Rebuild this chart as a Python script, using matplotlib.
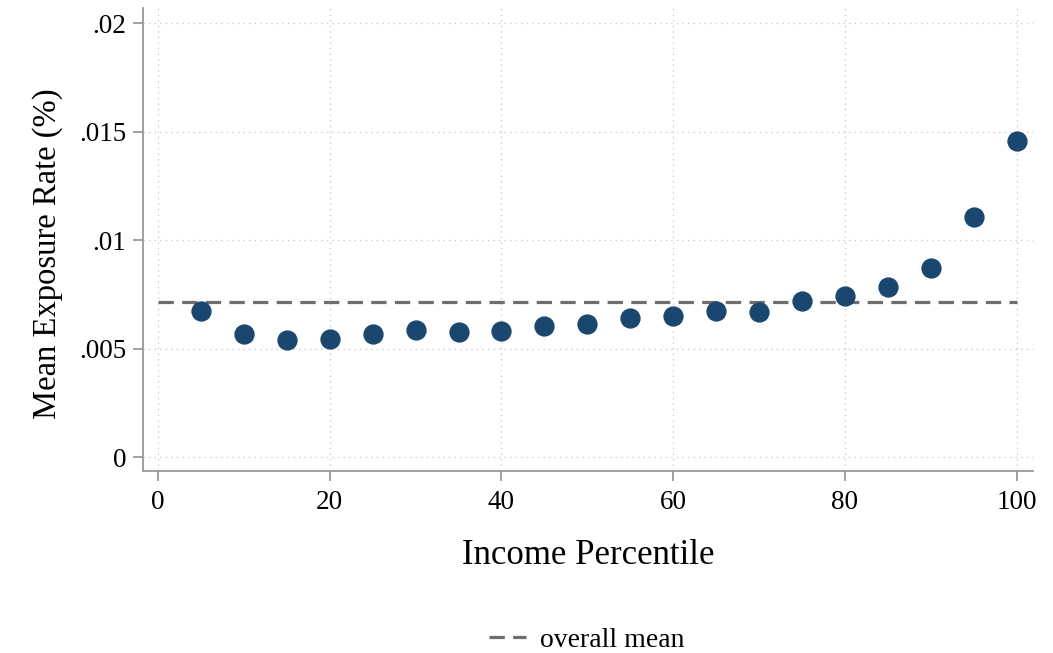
import numpy as np
import matplotlib.pyplot as plt

plt.rcParams['font.family'] = ['Liberation Serif', 'DejaVu Serif']

# Données
percentile = [5, 10, 15, 20, 25, 30, 35, 40, 45, 50,
              55, 60, 65, 70, 75, 80, 85, 90, 95, 100]
exposure = [0.00673, 0.00567, 0.00539, 0.00544, 0.00567, 0.00585, 0.00576, 0.00581, 0.00604, 0.00613,
            0.00641, 0.00650, 0.00673, 0.00668, 0.00719, 0.00742, 0.00783, 0.00871, 0.01106, 0.01456]
overall_mean = 0.00714
mean_span = [0, 100]

x_ticks = [0, 20, 40, 60, 80, 100]
y_ticks = [0, 0.005, 0.01, 0.015, 0.02]
y_labels = ['0', '.005', '.01', '.015', '.02']

fig = plt.figure(figsize=(10.53, 6.53), dpi=100)
ax = fig.add_axes([143 / 1053, 1 - 471 / 653, (1033 - 143) / 1053, (471 - 8) / 653])

grid_kw = dict(color='#cccccc', linestyle=(0, (1, 3)), linewidth=1.0, zorder=0)
for t in x_ticks:
    ax.axvline(t, **grid_kw)
for t in y_ticks:
    ax.axhline(t, **grid_kw)

ax.plot(mean_span, [overall_mean, overall_mean], color='#6e6e6e', linewidth=2.3,
        dashes=(4.8, 2.6), label='overall mean', zorder=2)
ax.scatter(percentile, exposure, s=185, color='#1a476f', zorder=3)

ax.set_xlim(-1.75, 101.9)
ax.set_ylim(-0.000645, 0.0207)
ax.set_xticks(x_ticks)
ax.set_yticks(y_ticks)
ax.set_yticklabels(y_labels)
ax.tick_params(axis='both', colors='#999999', length=7, width=1.3, labelsize=19.5,
               labelcolor='black', direction='out')
ax.tick_params(axis='x', pad=7)
ax.tick_params(axis='y', pad=5)

for s in ['top', 'right']:
    ax.spines[s].set_visible(False)
for s in ['left', 'bottom']:
    ax.spines[s].set_color('#999999')
    ax.spines[s].set_linewidth(1.3)

ax.set_xlabel('Income Percentile', fontsize=25, labelpad=17)
ax.set_ylabel('Mean Exposure Rate (%)', fontsize=23.5)
ax.yaxis.set_label_coords(-0.09, (471 - 254) / 463)

fig.legend(loc='center', bbox_to_anchor=(0.557, 1 - 640 / 653), frameon=False,
           fontsize=20, handlelength=1.35, handletextpad=0.5)

fig.savefig('out.png', dpi=100)
